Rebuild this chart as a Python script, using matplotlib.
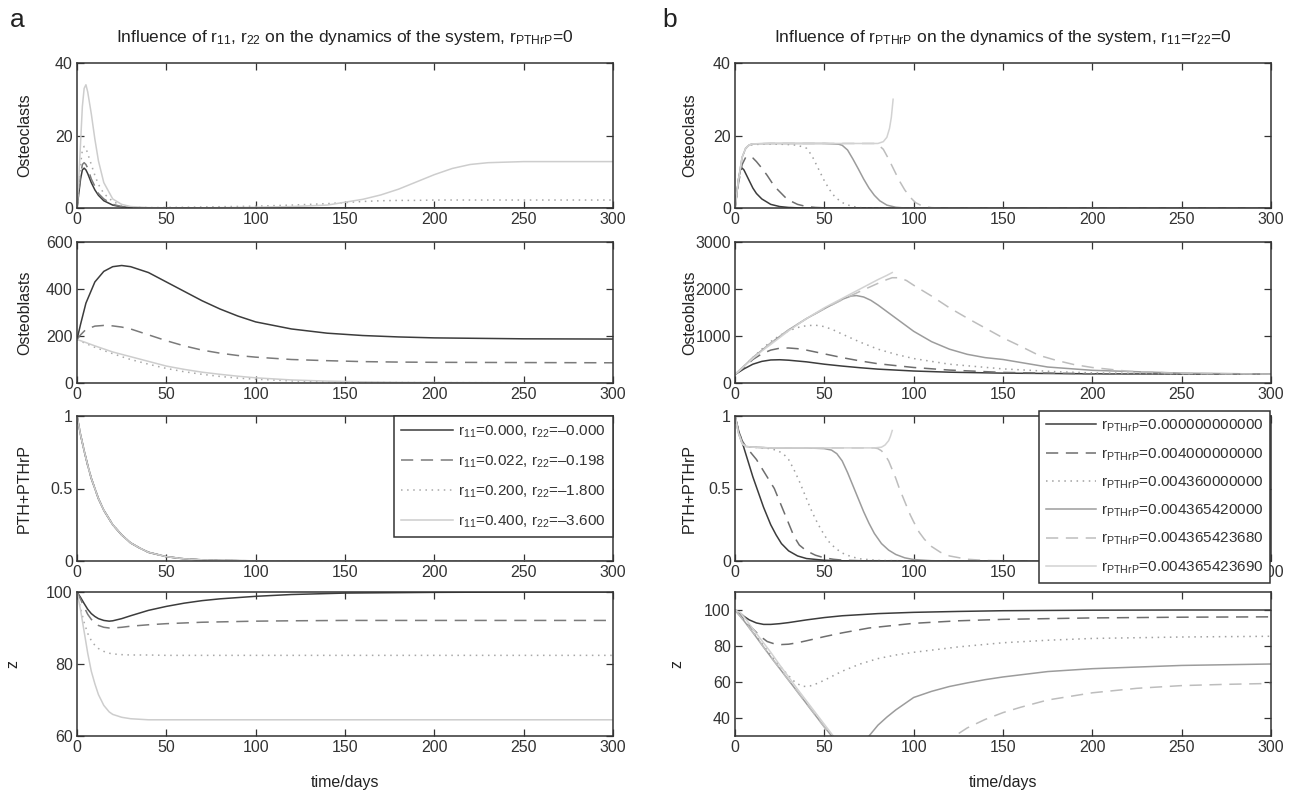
import matplotlib
matplotlib.use("Agg")
import matplotlib.pyplot as plt

plt.rcParams["font.family"] = ["Liberation Sans", "DejaVu Sans"]
plt.rcParams["mathtext.fontset"] = "custom"
plt.rcParams["mathtext.rm"] = "Liberation Sans"
plt.rcParams["mathtext.it"] = "Liberation Sans"
plt.rcParams["mathtext.default"] = "regular"

# ---------------- panel a data ----------------
t_a_oc = [0, 1, 2, 3, 4, 5, 6, 8, 10, 12, 15, 20, 25, 30, 40, 60, 100, 120, 140, 150,
          160, 170, 180, 190, 200, 210, 220, 230, 250, 300]
a_oc_1 = [0, 4, 8, 10.5, 11, 10.5, 9.5, 7, 5, 3.5, 2, 0.8, 0.3, 0.1, 0, 0, 0, 0, 0, 0,
          0, 0, 0, 0, 0, 0, 0, 0, 0, 0]
a_oc_2 = [0, 4.5, 9, 12, 12.5, 12, 11, 8, 6, 4, 2.5, 1, 0.4, 0.1, 0, 0, 0, 0, 0, 0,
          0, 0, 0, 0, 0, 0, 0, 0, 0, 0]
a_oc_3 = [0, 6, 12, 16, 17, 16.5, 15, 12, 9, 6.5, 4, 1.8, 0.7, 0.3, 0.1, 0.2, 0.5, 0.8, 1.2, 1.5,
          1.8, 2, 2.1, 2.1, 2.2, 2.2, 2.2, 2.2, 2.2, 2.2]
a_oc_4 = [0, 8, 18, 28, 33, 34, 32, 26, 19, 13, 7, 2.5, 1, 0.4, 0.1, 0, 0.2, 0.4, 0.8, 1.6,
          2.4, 3.6, 5.2, 7.2, 9.2, 10.9, 12, 12.5, 12.8, 12.8]

t_a_ob = [0, 2, 5, 10, 15, 20, 25, 30, 40, 50, 60, 70, 80, 90, 100, 120, 140, 160, 180, 200, 250, 300]
a_ob_1 = [185, 250, 340, 430, 475, 495, 500, 495, 470, 430, 390, 350, 315, 285, 260, 230, 212, 202, 196, 192, 188, 187]
a_ob_2 = [185, 205, 228, 242, 245, 243, 238, 230, 205, 180, 158, 140, 127, 117, 110, 100, 95, 91, 89, 88, 87, 86]
a_ob_3 = [185, 178, 168, 152, 138, 125, 112, 100, 80, 62, 48, 37, 28, 21, 16, 9, 5, 3, 2, 1.5, 1, 1]
a_ob_4 = [185, 180, 172, 158, 145, 132, 122, 112, 92, 72, 58, 46, 37, 29, 22, 13, 8, 5, 3, 2, 1, 1]

t_a_pth = [0, 2, 4, 6, 8, 10, 12, 15, 18, 20, 25, 30, 35, 40, 45, 50, 60, 70, 80, 100, 150, 200, 300]
a_pth = [1, 0.87, 0.76, 0.66, 0.57, 0.5, 0.43, 0.35, 0.29, 0.25, 0.18, 0.125, 0.09, 0.06, 0.045,
         0.03, 0.015, 0.008, 0.004, 0.001, 0, 0, 0]

t_a_z = [0, 2, 4, 6, 8, 10, 12, 15, 18, 20, 25, 30, 40, 50, 60, 70, 80, 100, 120, 150, 200, 250, 300]
a_z_1 = [100, 98.5, 96.8, 95.2, 94, 93.2, 92.6, 92.1, 91.9, 92, 92.6, 93.4, 94.9, 96, 96.9, 97.6,
         98.1, 98.8, 99.3, 99.7, 99.9, 100, 100]
a_z_2 = [100, 98, 95.8, 93.8, 92.4, 91.4, 90.7, 90.2, 90, 90, 90.2, 90.5, 90.9, 91.2, 91.4, 91.6,
         91.7, 91.9, 92, 92.1, 92.1, 92.1, 92.1]
a_z_3 = [100, 95.5, 91.5, 88.5, 86.5, 85.2, 84.3, 83.5, 83, 82.8, 82.6, 82.5, 82.5, 82.4, 82.4,
         82.4, 82.4, 82.4, 82.4, 82.4, 82.4, 82.4, 82.4]
a_z_4 = [100, 95, 89, 83, 78, 74.5, 71.5, 68.5, 66.7, 66, 65.2, 64.8, 64.5, 64.5, 64.5, 64.5,
         64.5, 64.5, 64.5, 64.5, 64.5, 64.5, 64.5]

a_labels = ["r$_{11}$=0.000, r$_{22}$=\u20130.000",
            "r$_{11}$=0.022, r$_{22}$=\u20130.198",
            "r$_{11}$=0.200, r$_{22}$=\u20131.800",
            "r$_{11}$=0.400, r$_{22}$=\u20133.600"]

# ---------------- panel b data ----------------
b_oc_t = [
    [0, 1, 2, 3, 4, 5, 6, 8, 10, 12, 15, 20, 25, 30, 35, 40, 60, 100, 300],
    [0, 2, 4, 6, 8, 10, 12, 15, 18, 20, 22, 25, 28, 30, 35, 40, 45, 50, 60, 100, 300],
    [0, 2, 4, 6, 8, 10, 15, 20, 25, 30, 35, 40, 43, 46, 48, 50, 53, 56, 60, 65, 70, 75, 300],
    [0, 2, 4, 6, 8, 10, 20, 30, 40, 50, 58, 60, 63, 66, 69, 72, 75, 78, 81, 85, 90, 95, 300],
    [0, 2, 4, 6, 8, 10, 20, 40, 60, 78, 80, 83, 86, 89, 92, 95, 98, 101, 105, 110, 115, 300],
    [0, 2, 4, 6, 8, 10, 20, 40, 60, 80, 83, 85, 86.5, 87.5, 88.5],
]
b_oc_y = [
    [0, 4, 8, 10.5, 11, 10.5, 9.5, 7.5, 5.5, 4, 2.5, 1, 0.4, 0.15, 0.05, 0, 0, 0, 0],
    [0, 7, 12, 14, 14.3, 13.8, 12.8, 11, 9, 7.5, 6, 4.5, 3, 2.2, 1, 0.4, 0.15, 0.05, 0, 0, 0],
    [0, 8, 14, 16.5, 17.2, 17.5, 17.6, 17.6, 17.6, 17.5, 17.3, 16.5, 14.5, 11.5, 9.5, 7.5, 5, 3, 1.5, 0.5, 0.1, 0, 0],
    [0, 8, 14, 16.5, 17.4, 17.7, 17.8, 17.8, 17.8, 17.8, 17.6, 17.3, 16, 13.5, 10.8, 8, 5.5, 3.5, 2, 0.8, 0.2, 0, 0],
    [0, 8, 14, 16.5, 17.4, 17.7, 17.8, 17.8, 17.8, 17.8, 17.5, 16.2, 13.5, 10.5, 7.5, 5, 3, 1.5, 0.5, 0.1, 0, 0],
    [0, 8, 14, 16.5, 17.4, 17.7, 17.8, 17.8, 17.8, 17.8, 18.3, 19.5, 22, 25, 30],
]

b_ob_t = [
    [0, 5, 10, 15, 20, 25, 30, 40, 50, 60, 70, 80, 100, 120, 150, 200, 250, 300],
    [0, 5, 10, 15, 20, 25, 30, 35, 40, 50, 60, 70, 80, 100, 120, 150, 200, 250, 300],
    [0, 5, 10, 15, 20, 25, 30, 35, 40, 45, 50, 55, 60, 70, 80, 90, 100, 120, 150, 180, 200, 250, 300],
    [0, 10, 20, 30, 40, 50, 55, 60, 65, 68, 72, 76, 80, 85, 90, 100, 110, 120, 130, 140, 150, 175, 200, 250, 300],
    [0, 10, 20, 30, 40, 50, 60, 70, 80, 85, 88, 92, 96, 100, 110, 120, 130, 140, 150, 160, 170, 180, 190, 200,
     220, 250, 300],
    [0, 5, 10, 15, 20, 30, 40, 50, 60, 70, 80, 85, 88],
]
b_ob_y = [
    [180, 300, 400, 460, 490, 495, 485, 450, 400, 360, 325, 295, 255, 230, 210, 195, 190, 190],
    [180, 330, 500, 620, 700, 740, 745, 730, 700, 620, 540, 470, 410, 330, 275, 225, 195, 190, 190],
    [180, 350, 540, 720, 880, 1010, 1110, 1180, 1220, 1230, 1200, 1130, 1040, 870, 720, 610, 520, 400, 300, 240,
     215, 195, 190],
    [180, 540, 850, 1130, 1370, 1580, 1680, 1780, 1850, 1860, 1830, 1760, 1660, 1520, 1380, 1100, 880, 720, 610,
     540, 500, 340, 270, 210, 190],
    [180, 540, 850, 1130, 1370, 1580, 1770, 1950, 2120, 2200, 2240, 2240, 2180, 2080, 1850, 1600, 1380, 1170, 960,
     780, 590, 480, 390, 330, 250, 205, 190],
    [180, 350, 520, 680, 820, 1110, 1370, 1600, 1800, 2000, 2200, 2290, 2350],
]

b_pth_t = [
    [0, 2, 4, 6, 8, 10, 12, 14, 16, 18, 20, 23, 26, 30, 35, 40, 50, 60, 80, 300],
    [0, 2, 4, 6, 8, 10, 12, 14, 16, 18, 20, 22, 24, 26, 28, 30, 33, 36, 40, 45, 50, 55, 60, 70, 300],
    [0, 2, 4, 6, 10, 15, 20, 24, 27, 30, 33, 36, 39, 42, 45, 48, 52, 56, 60, 65, 70, 80, 100, 300],
    [0, 2, 4, 6, 10, 20, 30, 40, 50, 54, 57, 60, 63, 66, 69, 72, 75, 78, 82, 86, 90, 95, 100, 110, 120, 300],
    [0, 2, 4, 6, 10, 20, 40, 60, 78, 80, 82, 84, 86, 88, 90, 92, 94, 96, 98, 100, 103, 106, 110, 115, 120, 130,
     140, 160, 300],
    [0, 2, 4, 6, 10, 20, 40, 60, 78, 82, 84, 86, 87, 88],
]
b_pth_y = [
    [1, 0.9, 0.82, 0.74, 0.66, 0.58, 0.51, 0.44, 0.37, 0.31, 0.25, 0.18, 0.12, 0.07, 0.035, 0.017, 0.005, 0.001,
     0, 0],
    [1, 0.9, 0.83, 0.79, 0.76, 0.73, 0.7, 0.66, 0.62, 0.58, 0.54, 0.5, 0.44, 0.38, 0.32, 0.26, 0.17, 0.11, 0.07,
     0.04, 0.022, 0.012, 0.006, 0.002, 0],
    [1, 0.88, 0.81, 0.79, 0.785, 0.78, 0.775, 0.76, 0.74, 0.7, 0.63, 0.55, 0.46, 0.37, 0.29, 0.22, 0.14, 0.09,
     0.055, 0.03, 0.015, 0.004, 0, 0],
    [1, 0.88, 0.81, 0.79, 0.785, 0.78, 0.78, 0.78, 0.775, 0.765, 0.74, 0.69, 0.61, 0.52, 0.43, 0.34, 0.26, 0.19,
     0.12, 0.075, 0.045, 0.022, 0.01, 0.002, 0, 0],
    [1, 0.88, 0.81, 0.79, 0.785, 0.78, 0.78, 0.78, 0.78, 0.775, 0.76, 0.73, 0.69, 0.63, 0.57, 0.5, 0.44, 0.38,
     0.32, 0.27, 0.2, 0.15, 0.1, 0.06, 0.035, 0.012, 0.004, 0, 0],
    [1, 0.88, 0.81, 0.79, 0.785, 0.78, 0.78, 0.78, 0.78, 0.785, 0.8, 0.83, 0.86, 0.9],
]

b_z_t = [
    [0, 2, 5, 8, 12, 16, 20, 25, 30, 40, 50, 60, 80, 100, 125, 150, 200, 250, 300],
    [0, 3, 6, 10, 14, 18, 22, 26, 30, 35, 40, 50, 60, 75, 100, 125, 150, 200, 250, 300],
    [0, 3, 6, 10, 15, 20, 25, 30, 34, 38, 42, 46, 50, 55, 60, 70, 80, 90, 100, 125, 150, 175, 200, 250, 300],
    [0, 5, 10, 20, 30, 40, 50, 60, 65, 70, 75, 80, 85, 90, 100, 110, 120, 130, 140, 150, 175, 200, 250, 300],
    [0, 5, 10, 20, 30, 40, 50, 60, 70, 80, 90, 100, 110, 123, 130, 140, 150, 160, 175, 200, 225, 250, 275, 300],
    [0, 3, 6, 10, 15, 20, 25, 30, 35, 40, 45, 50, 55, 60, 70],
]
b_z_y = [
    [100, 99, 96.5, 94.5, 92.8, 92, 92, 92.4, 93, 94.5, 95.8, 96.8, 98, 98.7, 99.2, 99.6, 99.9, 100, 100],
    [100, 97, 93.5, 89.5, 85.5, 82.5, 81.2, 80.8, 81, 81.8, 82.9, 85.2, 87.3, 90, 92.6, 94, 94.8, 95.6, 96, 96.2],
    [100, 97, 93, 88, 81.5, 75, 69, 63.5, 59.5, 57.5, 57.8, 59.2, 61, 63.5, 66, 70, 73, 75, 76.5, 79.5, 81.8,
     83.2, 84.2, 85, 85.4],
    [100, 94, 87.5, 74, 61, 48, 35, 23, 20, 22, 30, 36, 40.5, 44.5, 51.4, 54.8, 57.5, 59.5, 61.3, 62.8, 65.8,
     67.4, 69.2, 70],
    [100, 94, 87.5, 74, 61, 48, 35, 23, 14, 8, 6, 9, 17, 30, 34.5, 39.2, 43, 46, 50, 54, 56.5, 58, 58.7, 59.2],
    [100, 98.5, 95, 89.5, 83, 76.5, 69.5, 62.8, 56, 49.5, 43, 36.5, 30, 24, 12],
]

b_labels = ["r$_{PTHrP}$=0.000000000000",
            "r$_{PTHrP}$=0.004000000000",
            "r$_{PTHrP}$=0.004360000000",
            "r$_{PTHrP}$=0.004365420000",
            "r$_{PTHrP}$=0.004365423680",
            "r$_{PTHrP}$=0.004365423690"]

# styles
a_styles = [("#3c3c3c", "-"), ("#7a7a7a", (0, (8, 5))), ("#a8a8a8", (0, (1, 3))), ("#cdcdcd", "-")]
b_styles = [("#3c3c3c", "-"), ("#6e6e6e", (0, (8, 5))), ("#a0a0a0", (0, (1, 3))),
            ("#9c9c9c", "-"), ("#bdbdbd", (0, (8, 5))), ("#d2d2d2", "-")]

W, H = 1296, 794
fig = plt.figure(figsize=(W / 100, H / 100), dpi=100)

rows = [(63, 208), (242, 383), (416, 561), (592, 736)]
cols = [(77, 613), (735, 1271)]
# y-label anchor (pixels) per column: normal labels, "z" label
ylab_px = [(32, 20), (697, 684)]


def make_ax(col, row, label):
    x0, x1 = cols[col]
    y0, y1 = rows[row]
    ax = fig.add_axes([x0 / W, 1 - y1 / H, (x1 - x0) / W, (y1 - y0) / H])
    ax.set_xlim(0, 300)
    ax.set_xticks(range(0, 301, 50))
    ax.tick_params(direction="in", top=True, right=True, labelsize=11.5, length=5,
                   width=0.9, colors="#333333", labelcolor="#333333", pad=3)
    for sp in ax.spines.values():
        sp.set_linewidth(1.1)
        sp.set_color("#333333")
    ax.set_ylabel(label, fontsize=11.5, color="#222222")
    px = ylab_px[col][1] if label == "z" else ylab_px[col][0]
    ax.yaxis.set_label_coords((px - x0) / (x1 - x0), 0.5)
    return ax


lw = 1.1


def style_legend(leg):
    leg.get_frame().set_linewidth(1.1)
    for txt in leg.get_texts():
        txt.set_color("#333333")


# ---------- column a ----------
ax = make_ax(0, 0, "Osteoclasts")
for y, (c, ls) in zip([a_oc_1, a_oc_2, a_oc_3, a_oc_4], a_styles):
    ax.plot(t_a_oc, y, color=c, ls=ls, lw=lw)
ax.set_ylim(0, 40)
ax.set_yticks([0, 20, 40])
ax.set_title("Influence of r$_{11}$, r$_{22}$ on the dynamics of the system, r$_{PTHrP}$=0",
             fontsize=12.5, pad=15, color="#222222")

ax = make_ax(0, 1, "Osteoblasts")
for y, (c, ls) in zip([a_ob_1, a_ob_2, a_ob_3, a_ob_4], a_styles):
    ax.plot(t_a_ob, y, color=c, ls=ls, lw=lw)
ax.set_ylim(0, 600)
ax.set_yticks([0, 200, 400, 600])

ax = make_ax(0, 2, "PTH+PTHrP")
for lab, (c, ls) in zip(a_labels, a_styles):
    ax.plot(t_a_pth, a_pth, color=c, ls=ls, lw=lw, label=lab)
ax.set_ylim(0, 1)
ax.set_yticks([0, 0.5, 1])
ax.set_yticklabels(["0", "0.5", "1"])
leg = ax.legend(loc="upper right", bbox_to_anchor=(1.0, 1.0), borderaxespad=0, fontsize=11,
                handlelength=3.4, labelspacing=0.88, fancybox=False, framealpha=1,
                edgecolor="#333333", borderpad=0.5, handletextpad=0.3)
style_legend(leg)

ax = make_ax(0, 3, "z")
for y, (c, ls) in zip([a_z_1, a_z_2, a_z_3, a_z_4], a_styles):
    ax.plot(t_a_z, y, color=c, ls=ls, lw=lw)
ax.set_ylim(60, 100)
ax.set_yticks([60, 80, 100])
ax.set_xlabel("time/days", fontsize=11.5, labelpad=14, color="#222222")

# ---------- column b ----------
ax = make_ax(1, 0, "Osteoclasts")
for t, y, (c, ls) in zip(b_oc_t, b_oc_y, b_styles):
    ax.plot(t, y, color=c, ls=ls, lw=lw)
ax.set_ylim(0, 40)
ax.set_yticks([0, 20, 40])
ax.set_title("Influence of r$_{PTHrP}$ on the dynamics of the system, r$_{11}$=r$_{22}$=0",
             fontsize=12.5, pad=15, color="#222222")

ax = make_ax(1, 1, "Osteoblasts")
for t, y, (c, ls) in zip(b_ob_t, b_ob_y, b_styles):
    ax.plot(t, y, color=c, ls=ls, lw=lw)
ax.set_ylim(0, 3000)
ax.set_yticks([0, 1000, 2000, 3000])

ax = make_ax(1, 2, "PTH+PTHrP")
for t, y, lab, (c, ls) in zip(b_pth_t, b_pth_y, b_labels, b_styles):
    ax.plot(t, y, color=c, ls=ls, lw=lw, label=lab)
ax.set_ylim(0, 1)
ax.set_yticks([0, 0.5, 1])
ax.set_yticklabels(["0", "0.5", "1"])
# the legend hides the 200 and 250 tick labels in the reference
ax.set_xticklabels(["0", "50", "100", "150", "", "", "300"])
leg = ax.legend(loc="upper right", bbox_to_anchor=(0.998, 1.035), borderaxespad=0, fontsize=11,
                handlelength=3.3, labelspacing=0.78, fancybox=False, framealpha=1,
                edgecolor="#333333", borderpad=0.45, handletextpad=0.3)
style_legend(leg)

ax = make_ax(1, 3, "z")
for t, y, (c, ls) in zip(b_z_t, b_z_y, b_styles):
    ax.plot(t, y, color=c, ls=ls, lw=lw)
ax.set_ylim(30, 110)
ax.set_yticks([40, 60, 80, 100])
ax.set_xlabel("time/days", fontsize=11.5, labelpad=14, color="#222222")

fig.text(10 / W, 1 - 20 / H, "a", fontsize=19, va="center", ha="left", color="#222222")
fig.text(662 / W, 1 - 20 / H, "b", fontsize=19, va="center", ha="left", color="#222222")

fig.savefig("out.png", dpi=100)
